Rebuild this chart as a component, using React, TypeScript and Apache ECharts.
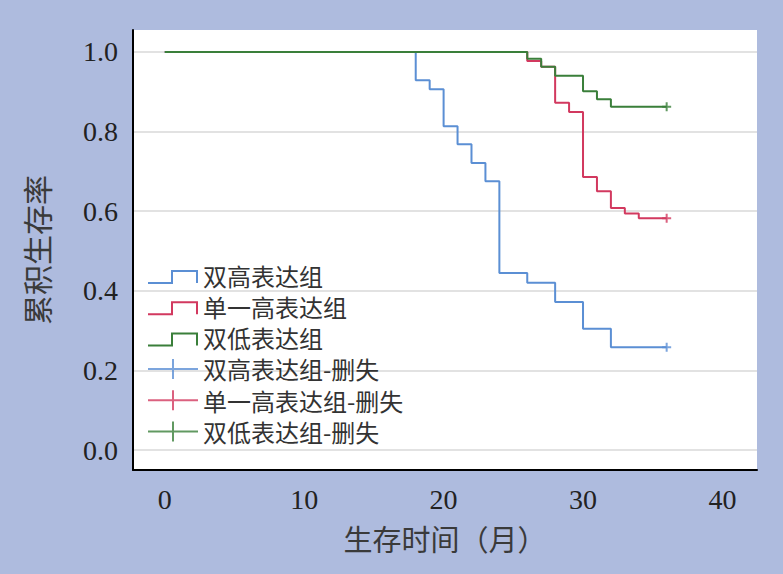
import React, { useEffect, useRef } from 'react';
import * as echarts from 'echarts';

// Kaplan–Meier curves (time in months, cumulative survival)
const highTimes = [0, 18, 19, 20, 21, 22, 23, 24, 26, 28, 30, 32, 36];
const highSurv = [1, 0.929, 0.906, 0.813, 0.768, 0.721, 0.675, 0.445, 0.42, 0.372, 0.305, 0.258, 0.258];

const singleTimes = [0, 26, 27, 28, 29, 30, 31, 32, 33, 34, 36];
const singleSurv = [1, 0.977, 0.963, 0.872, 0.849, 0.686, 0.65, 0.608, 0.594, 0.582, 0.582];

const lowTimes = [0, 26, 27, 28, 30, 31, 32, 36];
const lowSurv = [1, 0.983, 0.963, 0.94, 0.901, 0.881, 0.862, 0.862];

// censored points
const censorTimes = [36, 36, 36];
const censorSurv = [0.258, 0.582, 0.862];

const groupNames = ['双高表达组', '单一高表达组', '双低表达组'];
const censorNames = ['双高表达组-删失', '单一高表达组-删失', '双低表达组-删失'];
const colors = ['#5b8fd4', '#d2395f', '#3a7f3a'];

const xName = '生存时间（月）';
const yName = '累积生存率';

const FONT = '"Liberation Serif", "Noto Sans CJK SC", serif';
const CJK = '"Noto Sans CJK SC", "Liberation Serif", sans-serif';

const zip = (t: number[], s: number[]) => t.map((v, i) => [v, s[i]]);

export default function App() {
  const ref = useRef<HTMLDivElement>(null);

  useEffect(() => {
    const chart = echarts.init(ref.current!, null, { renderer: 'svg' });
    const lineData = [zip(highTimes, highSurv), zip(singleTimes, singleSurv), zip(lowTimes, lowSurv)];

    const stepIcon = 'path://M0,18 L24,18 L24,6 L49,6 L49,18 M0,0 L0,0 M50,20 L50,20';
    const plusIcon = 'path://M0,10 L50,10 M25,0 L25,20';

    const option: any = {
      animation: false,
      backgroundColor: '#aebbde',
      grid: {
        left: 133,
        right: 26,
        top: 30,
        bottom: 104,
        show: true,
        backgroundColor: '#ffffff',
        borderWidth: 0,
      },
      xAxis: {
        type: 'value',
        min: -2.28,
        max: 42.48,
        splitNumber: 5,
        name: xName,
        nameLocation: 'middle',
        nameGap: 53,
        nameTextStyle: { fontSize: 29, color: '#3a3a3a', fontFamily: CJK },
        axisLine: { show: true, onZero: false, lineStyle: { color: '#000', width: 2 } },
        axisTick: { show: false },
        splitLine: { show: false },
        axisLabel: {
          fontSize: 28,
          color: '#222',
          fontFamily: FONT,
          margin: 15,
          showMinLabel: false,
          showMaxLabel: false,
          formatter: (v: number) => (Math.abs(v % 10) < 1e-9 ? String(v) : ''),
        },
      },
      yAxis: {
        type: 'value',
        min: -0.05,
        max: 1.055,
        splitNumber: 5,
        name: yName,
        nameLocation: 'middle',
        nameGap: 82,
        nameTextStyle: { fontSize: 30, color: '#3a3a3a', fontFamily: CJK },
        axisLine: { show: true, onZero: false, lineStyle: { color: '#000', width: 2 } },
        axisTick: { show: false },
        splitLine: {
          show: true,
          showMinLine: false,
          showMaxLine: false,
          lineStyle: { color: '#d9d9d9', width: 1.5 },
        },
        axisLabel: {
          fontSize: 28,
          color: '#222',
          fontFamily: FONT,
          margin: 15,
          showMinLabel: false,
          showMaxLabel: false,
          formatter: (v: number) => {
            const k = Math.round(v * 10);
            return Math.abs(v * 10 - k) < 1e-6 && k % 2 === 0 ? v.toFixed(1) : '';
          },
        },
      },
      legend: {
        orient: 'vertical',
        left: 142,
        top: 258,
        itemWidth: 50,
        itemHeight: 20,
        itemGap: 7.3,
        selectedMode: false,
        textStyle: { fontSize: 24, lineHeight: 20, color: '#333', fontFamily: CJK },
        data: [
          ...groupNames.map((n, i) => ({
            name: n,
            icon: stepIcon,
            itemStyle: { color: 'transparent', borderColor: colors[i], borderWidth: 2 },
          })),
          ...censorNames.map((n, i) => ({
            name: n,
            icon: plusIcon,
            itemStyle: { color: 'transparent', borderColor: colors[i], borderWidth: 2 },
          })),
        ],
      },
      series: [
        ...groupNames.map((n, i) => ({
          name: n,
          type: 'line',
          step: 'end',
          data: lineData[i],
          showSymbol: false,
          symbol: 'none',
          lineStyle: { color: colors[i], width: 2 },
          itemStyle: { color: colors[i] },
          emphasis: { disabled: true },
          z: 2 + i,
        })),
        ...censorNames.map((n, i) => ({
          name: n,
          type: 'scatter',
          data: [[censorTimes[i], censorSurv[i]]],
          symbol: 'path://M0,5 L10,5 M5,0 L5,10',
          symbolSize: 9,
          itemStyle: { color: 'transparent', borderColor: colors[i], borderWidth: 2 },
          emphasis: { disabled: true },
          z: 6,
        })),
      ],
    };

    chart.setOption(option);
    return () => chart.dispose();
  }, []);

  return (
    <div
      ref={ref}
      style={{ position: 'absolute', left: 0, top: 0, width: 783, height: 574 }}
    />
  );
}
